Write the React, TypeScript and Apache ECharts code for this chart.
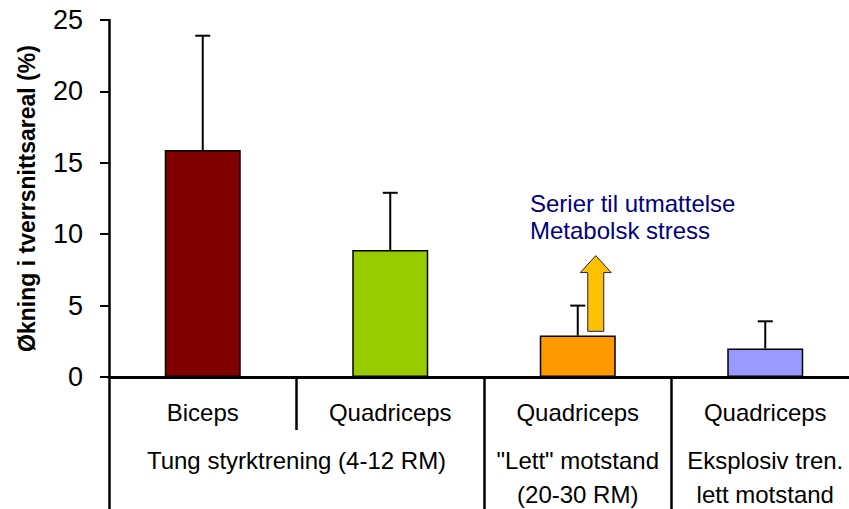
import React, { useEffect, useRef } from "react";
import * as echarts from "echarts";

// Muscle measured in each study group, and the mean gain in cross-sectional area (%)
const muscles = ["Biceps", "Quadriceps", "Quadriceps", "Quadriceps"];
const gains = [15.9, 8.9, 2.9, 2.0];
const errorTops = [23.9, 12.9, 5.0, 3.9];
const barColors = ["#800000", "#99CC00", "#FF9900", "#9999FF"];

// Training-type groups, placed on a 0..4 scale spanning the four categories
const groupCenters = [1, 2.5, 3.5];
const groupLabels = [
  "Tung styrktrening (4-12 RM)",
  "\"Lett\" motstand\n(20-30 RM)",
  "Eksplosiv tren.\nlett motstand",
];
const groupBoundaries = [0, 2, 3];
const innerBoundaries = [1];

// Upward arrow beside the light-load bar: [category, from, to]
const arrowSpan = [[2, 3.2, 8.5]];
const annotationLines = ["Serier til utmattelse", "Metabolsk stress"];

const FONT = "Liberation Sans, Arial, sans-serif";

export default function App() {
  const ref = useRef<HTMLDivElement>(null);

  useEffect(() => {
    if (!ref.current) return;
    const chart = echarts.init(ref.current, null, { renderer: "svg" });

    const option: any = {
      animation: false,
      backgroundColor: "#ffffff",
      textStyle: { fontFamily: FONT },
      grid: {
        left: 109,
        right: -10,
        top: 20,
        bottom: 132,
        containLabel: false,
        outerBoundsMode: "none",
      },
      xAxis: [
        {
          type: "category",
          data: muscles,
          position: "bottom",
          boundaryGap: true,
          axisLine: { show: true, lineStyle: { color: "#000", width: 3 } },
          axisTick: { show: false },
          axisLabel: {
            color: "#000",
            fontSize: 24,
            fontFamily: FONT,
            margin: 23,
            interval: 0,
          },
        },
        {
          type: "value",
          min: 0,
          max: 4,
          position: "bottom",
          axisLine: { show: false },
          splitLine: { show: false },
          axisTick: {
            show: true,
            customValues: groupBoundaries,
            length: 134,
            lineStyle: { color: "#000", width: 2.5 },
          },
          axisLabel: {
            show: true,
            customValues: groupCenters,
            color: "#000",
            fontSize: 24,
            lineHeight: 34,
            fontFamily: FONT,
            margin: 66,
            formatter: (v: number) => {
              const i = groupCenters.indexOf(v);
              return i >= 0 ? groupLabels[i] : "";
            },
          },
        },
        {
          type: "value",
          min: 0,
          max: 4,
          position: "bottom",
          axisLine: { show: false },
          splitLine: { show: false },
          axisTick: {
            show: true,
            customValues: innerBoundaries,
            length: 53,
            lineStyle: { color: "#000", width: 2.5 },
          },
          axisLabel: { show: false },
        },
      ],
      yAxis: {
        type: "value",
        min: 0,
        max: 25,
        interval: 5,
        name: "Økning i tverrsnittsareal (%)",
        nameLocation: "middle",
        nameGap: 71,
        nameTextStyle: {
          color: "#000",
          fontSize: 23,
          fontWeight: "bold",
          fontFamily: FONT,
        },
        axisLine: { show: true, lineStyle: { color: "#000", width: 2.5 } },
        axisTick: { show: true, length: 9, lineStyle: { color: "#000", width: 2 } },
        splitLine: { show: false },
        axisLabel: { color: "#000", fontSize: 27, fontFamily: FONT, margin: 26 },
      },
      series: [
        {
          type: "bar",
          xAxisIndex: 0,
          barWidth: 76,
          data: gains.map((v, i) => ({
            value: v,
            itemStyle: { color: barColors[i], borderColor: "#000", borderWidth: 1.5 },
          })),
        },
        {
          type: "custom",
          xAxisIndex: 0,
          z: 5,
          data: gains.map((v, i) => [i, v, errorTops[i]]),
          encode: { x: 0, y: [1, 2] },
          renderItem: (params: any, api: any) => {
            const i = api.value(0);
            const lo = api.coord([i, api.value(1)]);
            const hi = api.coord([i, api.value(2)]);
            const half = 7.5;
            const style = { stroke: "#000", lineWidth: 2 };
            return {
              type: "group",
              children: [
                { type: "line", shape: { x1: lo[0], y1: lo[1], x2: hi[0], y2: hi[1] }, style },
                { type: "line", shape: { x1: hi[0] - half, y1: hi[1], x2: hi[0] + half, y2: hi[1] }, style },
              ],
            };
          },
        },
        {
          type: "custom",
          xAxisIndex: 0,
          z: 6,
          data: arrowSpan,
          encode: { x: 0, y: [1, 2] },
          renderItem: (params: any, api: any) => {
            const i = api.value(0);
            const base = api.coord([i, api.value(1)]);
            const tip = api.coord([i, api.value(2)]);
            const cx = base[0] + 18;
            const shaft = 8;
            const head = 15.5;
            const headH = 17;
            return {
              type: "polygon",
              shape: {
                points: [
                  [cx - shaft, base[1]],
                  [cx - shaft, tip[1] + headH],
                  [cx - head, tip[1] + headH],
                  [cx, tip[1]],
                  [cx + head, tip[1] + headH],
                  [cx + shaft, tip[1] + headH],
                  [cx + shaft, base[1]],
                ],
              },
              style: { fill: "#FFC000", stroke: "#1a1a66", lineWidth: 1 },
            };
          },
        },
      ],
      graphic: [
        {
          type: "text",
          left: 530,
          top: 190,
          style: {
            text: annotationLines.join("\n"),
            fill: "#000080",
            font: `24px ${FONT}`,
            lineHeight: 27,
          },
        },
      ],
    };

    chart.setOption(option);
    return () => chart.dispose();
  }, []);

  return (
    <div
      ref={ref}
      style={{ position: "absolute", left: 0, top: 0, width: 849, height: 509 }}
    />
  );
}
